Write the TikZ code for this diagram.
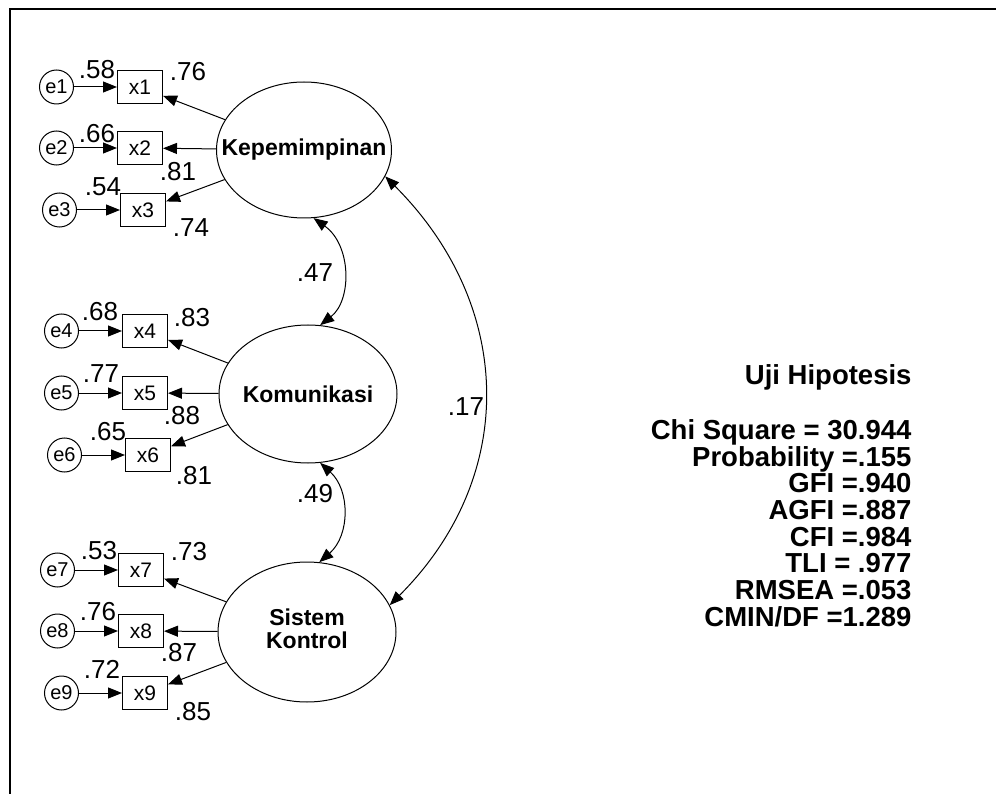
\documentclass[tikz,border=0pt]{standalone}
\usepackage{fontspec}
\setmainfont{Liberation Sans}
\usetikzlibrary{arrows.meta,positioning,shapes.geometric}

\begin{document}
\begin{tikzpicture}[
  x=1pt,y=-1pt,
  line width=1pt,
  >={Triangle[length=14pt,width=11pt]},
  every node/.style={align=center,inner sep=0pt},
  obs/.style={rectangle,draw,minimum width=45pt,minimum height=33pt,font=\fontsize{21}{21}\selectfont},
  err/.style={circle,draw,minimum size=34pt,font=\fontsize{20}{20}\selectfont},
  lat/.style={ellipse,draw,minimum width=178pt,minimum height=138pt,font=\bfseries\fontsize{23}{23}\selectfont},
  num/.style={font=\fontsize{26}{26}\selectfont},
  fitidx/.style={align=right,font=\bfseries\fontsize{27.5}{26.7}\selectfont}
]
\useasboundingbox (0,0) rectangle (996,794);
\draw[line width=2.5pt] (996,9) -- (10,9) -- (10,794);

% latent variables
\node[lat,minimum width=175pt,minimum height=136pt] (kep) at (304,150) {\makebox[0pt]{Kepemimpinan}};
\node[lat] (kom) at (308,394) {\makebox[0pt]{Komunikasi}};
\node[lat,minimum height=140pt] (sis) at (307,632) {\makebox[0pt]{\begin{tabular}{@{}c@{}}Sistem\\Kontrol\end{tabular}}};

% indicators
\node[obs] (x1) at (140,87) {x1};
\node[obs] (x2) at (140,148) {x2};
\node[obs] (x3) at (143,210) {x3};
\node[obs] (x4) at (145,331) {x4};
\node[obs] (x5) at (145,393) {x5};
\node[obs] (x6) at (148,455) {x6};
\node[obs] (x7) at (141,570) {x7};
\node[obs] (x8) at (141,631) {x8};
\node[obs] (x9) at (145,693) {x9};

% error terms
\node[err,left=43pt of x1] (e1) {e1};
\node[err,left=43pt of x2] (e2) {e2};
\node[err,left=43pt of x3] (e3) {e3};
\node[err,left=43pt of x4] (e4) {e4};
\node[err,left=43pt of x5] (e5) {e5};
\node[err,left=43pt of x6] (e6) {e6};
\node[err,left=43pt of x7] (e7) {e7};
\node[err,left=43pt of x8] (e8) {e8};
\node[err,left=43pt of x9] (e9) {e9};

% estimates
\node[num] (r1) at (97,70) {.58};
\node[num] (w1) at (188,72) {.76};
\node[num] (r2) at (97,134) {.66};
\node[num] (w2) at (178,172) {.81};
\node[num] (r3) at (103,187) {.54};
\node[num] (w3) at (191,228) {.74};
\node[num] (r4) at (100,312) {.68};
\node[num] (w4) at (192,318) {.83};
\node[num] (r5) at (101,374) {.77};
\node[num] (w5) at (182,416) {.88};
\node[num] (r6) at (108,432) {.65};
\node[num] (w6) at (194,476) {.81};
\node[num] (r7) at (99,551) {.53};
\node[num] (w7) at (189,552) {.73};
\node[num] (r8) at (98,612) {.76};
\node[num] (w8) at (179,653) {.87};
\node[num] (r9) at (102,669) {.72};
\node[num] (w9) at (193,712) {.85};
\node[num] (c47) at (315,273) {.47};
\node[num] (c49) at (315,494) {.49};
\node[num] (c17) at (466,407) {.17};

% fit summary
\node[fitidx,anchor=base east] (uji) at (912,384) {Uji Hipotesis};
\node[fitidx,anchor=north east] (gof) at (912,419) {Chi Square = 30.944\\Probability =.155\\GFI =.940\\AGFI =.887\\CFI =.984\\TLI = .977\\RMSEA =.053\\CMIN/DF =1.289};

\draw[->] (e1) -- (x1);
\draw[->] (e2) -- (x2);
\draw[->] (e3) -- (x3);
\draw[->] (e4) -- (x4);
\draw[->] (e5) -- (x5);
\draw[->] (e6) -- (x6);
\draw[->] (e7) -- (x7);
\draw[->] (e8) -- (x8);
\draw[->] (e9) -- (x9);
\draw[->] (kep) -- (x1);
\draw[->] (kep) -- (x2);
\draw[->] (kep) -- (x3);
\draw[->] (kom) -- (x4);
\draw[->] (kom) -- (x5);
\draw[->] (kom) -- (x6);
\draw[->] (sis) -- (x7);
\draw[->] (sis) -- (x8);
\draw[->] (sis) -- (x9);
\draw[<->] (kep.-82) .. controls +(38,27) and +(32,-25) .. (kom.80);
\draw[<->] (kom.-80) .. controls +(30,27) and +(31,-27) .. (sis.80);
\draw[<->] (kep.-18) .. controls +(129,129) and +(129,-129) .. (sis.18);
\end{tikzpicture}
\end{document}
